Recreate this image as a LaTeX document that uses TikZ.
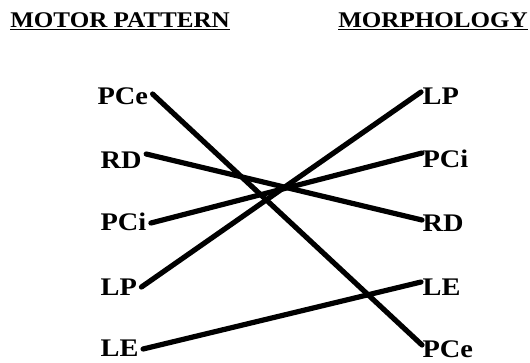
\documentclass[tikz,border=0pt]{standalone}
\usepackage{fontspec}
\setmainfont{Liberation Serif}[FakeStretch=1.12]
\usetikzlibrary{calc}
\begin{document}
\begin{tikzpicture}[x=0.75pt,y=-0.75pt,
  lbl/.style={font=\bfseries\fontsize{19}{22}\selectfont, inner sep=1pt},
  hdr/.style={font=\bfseries\fontsize{16.8}{20}\selectfont, inner sep=0pt, anchor=base west},
  link/.style={line width=3.9pt, line cap=round}]
\useasboundingbox (0,0) rectangle (530,362);
\node[hdr] (h1) at (10,27) {\underline{MOTOR PATTERN}};
\node[hdr] (h2) at (338,27) {\underline{MORPHOLOGY}};
% left column
\node[lbl, anchor=west] (lPCe) at (96,96) {PCe};
\node[lbl, anchor=west] (lRD) at (99,160) {RD};
\node[lbl, anchor=west] (lPCi) at (99,222) {PCi};
\node[lbl, anchor=west] (lLP) at (99,287) {LP};
\node[lbl, anchor=west] (lLE) at (99,348) {LE};
% right column
\node[lbl, anchor=west] (rLP) at (421,96) {LP};
\node[lbl, anchor=west] (rPCi) at (421,159) {PCi};
\node[lbl, anchor=west] (rRD) at (421,223) {RD};
\node[lbl, anchor=west] (rLE) at (421,287) {LE};
\node[lbl, anchor=west] (rPCe) at (421,349) {PCe};
% connectors
\draw[link] ($(lPCe.east)+(3,-2)$) -- ($(rPCe.west)+(1,-4)$);
\draw[link] ($(lRD.east)+(3,-6)$) -- ($(rRD.west)+(1,-3)$);
\draw[link] ($(lPCi.east)+(3,1)$) -- ($(rPCi.west)+(1,-6)$);
\draw[link] ($(lLP.east)+(3,0)$) -- ($(rLP.west)+(0,-4)$);
\draw[link] ($(lLE.east)+(3,1)$) -- ($(rLE.west)+(0,-5)$);
\end{tikzpicture}
\end{document}
